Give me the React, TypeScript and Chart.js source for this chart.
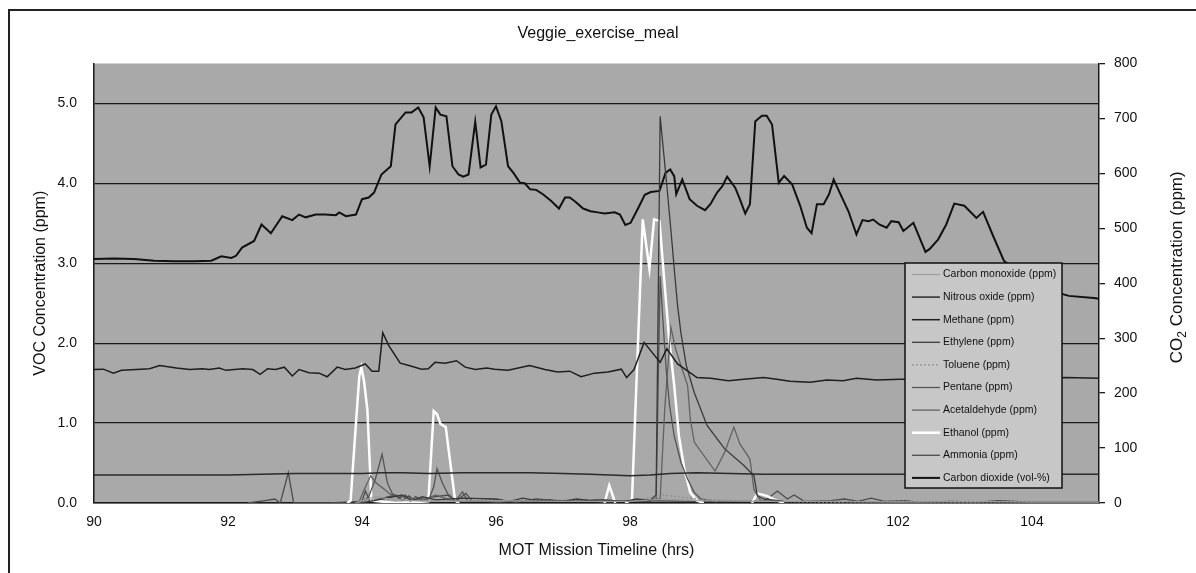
import React, { useEffect, useRef } from 'react';
import { Chart, registerables } from 'chart.js';

Chart.register(...registerables);

const FONT = '"Liberation Sans", Arial, sans-serif';

const chartTitle = 'Veggie_exercise_meal';
const xTitle = 'MOT Mission Timeline (hrs)';
const leftTitle = 'VOC Concentration (ppm)';
const xTickValues = [90, 92, 94, 96, 98, 100, 102, 104];
const vocTickValues = [0, 1, 2, 3, 4, 5];
const co2TickValues = [0, 100, 200, 300, 400, 500, 600, 700, 800];

const seriesNames = [
  'Carbon monoxide (ppm)',
  'Nitrous oxide (ppm)',
  'Methane (ppm)',
  'Ethylene (ppm)',
  'Toluene (ppm)',
  'Pentane (ppm)',
  'Acetaldehyde (ppm)',
  'Ethanol (ppm)',
  'Ammonia (ppm)',
  'Carbon dioxide (vol-%)',
];

const coHours = [93.9, 94.2, 94.5, 95.0, 96.0, 97.0, 98.0, 98.5, 99.0, 100.0, 101.0, 102.0, 103.0, 104.0, 105.0];
const coValues = [0.0, 0.08, 0.04, 0.02, 0.03, 0.02, 0.02, 0.05, 0.03, 0.02, 0.02, 0.01, 0.02, 0.01, 0.01];

const n2oHours = [90, 90.5, 91, 91.5, 92, 92.5, 93, 93.5, 94, 94.3, 94.6, 95, 95.5, 96, 96.5, 97, 97.4, 97.7, 98, 98.3, 98.6, 99, 99.5, 100, 100.5, 101, 102, 103, 104, 105];
const n2oValues = [0.35, 0.35, 0.35, 0.35, 0.35, 0.36, 0.37, 0.37, 0.37, 0.38, 0.38, 0.37, 0.38, 0.38, 0.38, 0.37, 0.36, 0.35, 0.34, 0.35, 0.37, 0.38, 0.37, 0.36, 0.36, 0.36, 0.36, 0.36, 0.36, 0.36];

const methaneHours = [90.0, 90.14, 90.29, 90.41, 90.63, 90.83, 90.98, 91.23, 91.43, 91.62, 91.72, 91.87, 91.97, 92.22, 92.37, 92.48, 92.59, 92.71, 92.84, 92.96, 93.06, 93.21, 93.36, 93.48, 93.63, 93.75, 93.9, 94.05, 94.15, 94.25, 94.31, 94.4, 94.57, 94.7, 94.89, 94.99, 95.09, 95.24, 95.41, 95.54, 95.69, 95.86, 95.98, 96.18, 96.5, 96.73, 96.92, 97.1, 97.27, 97.47, 97.67, 97.87, 97.95, 98.06, 98.21, 98.45, 98.55, 98.71, 99.0, 99.2, 99.47, 99.7, 99.99, 100.19, 100.39, 100.69, 100.94, 101.18, 101.38, 101.68, 102.03, 102.5, 103.0, 103.5, 104.0, 104.5, 105.0];
const methaneValues = [1.67, 1.675, 1.625, 1.66, 1.67, 1.68, 1.72, 1.69, 1.67, 1.68, 1.67, 1.69, 1.66, 1.68, 1.67, 1.61, 1.68, 1.67, 1.7, 1.59, 1.67, 1.63, 1.625, 1.58, 1.7, 1.67, 1.69, 1.74, 1.65, 1.65, 2.13, 1.97, 1.75, 1.72, 1.675, 1.68, 1.76, 1.75, 1.78, 1.7, 1.67, 1.69, 1.675, 1.66, 1.72, 1.67, 1.64, 1.65, 1.58, 1.625, 1.64, 1.675, 1.57, 1.67, 2.01, 1.76, 1.93, 1.74, 1.57, 1.56, 1.53, 1.55, 1.57, 1.55, 1.525, 1.51, 1.54, 1.53, 1.56, 1.54, 1.55, 1.55, 1.54, 1.56, 1.55, 1.57, 1.56];

const ethyleneHours = [94.0, 94.3, 94.6, 94.75, 94.9, 95.1, 95.5, 96.0, 96.2, 96.4, 96.6, 96.8, 97.0, 97.2, 97.4, 97.6, 97.9, 98.1, 98.3, 98.39, 98.45, 98.55, 98.61, 98.67, 98.71, 98.76, 98.84, 98.96, 99.15, 99.41, 99.7, 99.85, 99.9, 100.0, 100.3];
const ethyleneValues = [0.0, 0.05, 0.1, 0.03, 0.08, 0.04, 0.06, 0.05, 0.02, 0.06, 0.03, 0.04, 0.02, 0.05, 0.03, 0.04, 0.02, 0.05, 0.03, 0.1, 4.84, 3.97, 3.42, 2.84, 2.47, 2.13, 1.72, 1.38, 0.97, 0.68, 0.47, 0.34, 0.09, 0.05, 0.02];

const tolueneHours = [93.9, 94.2, 95.0, 96.0, 97.0, 98.0, 98.5, 99.0, 100.0, 101.0, 102.0, 103.0, 104.0];
const tolueneValues = [0.0, 0.05, 0.03, 0.02, 0.04, 0.02, 0.1, 0.05, 0.02, 0.01, 0.02, 0.01, 0.02];

const pentaneHours = [94.0, 94.1, 94.2, 94.3, 94.38, 94.45, 94.55, 94.65, 94.72, 94.8, 94.9, 95.0, 95.07, 95.12, 95.2, 95.3, 95.4, 95.5, 95.58, 95.8, 96.0, 96.5, 97.0, 97.5, 98.0, 98.3, 98.39, 98.45, 98.49, 98.54, 98.59, 98.66, 98.76, 98.86, 98.96, 99.06, 99.3];
const pentaneValues = [0.0, 0.08, 0.3, 0.61, 0.25, 0.12, 0.06, 0.1, 0.02, 0.08, 0.03, 0.05, 0.2, 0.43, 0.25, 0.08, 0.03, 0.14, 0.02, 0.03, 0.01, 0.03, 0.02, 0.04, 0.02, 0.02, 0.05, 2.84, 2.3, 1.67, 1.22, 0.84, 0.51, 0.3, 0.13, 0.05, 0.01];

const acetaldehydeHours = [93.95, 94.05, 94.13, 94.2, 94.32, 94.42, 94.65, 94.9, 95.1, 95.3, 95.5, 96.0, 97.0, 98.0, 98.45, 98.52, 98.61, 98.68, 98.76, 98.86, 98.9, 98.96, 99.27, 99.41, 99.55, 99.64, 99.79, 99.85, 99.95, 100.2];
const acetaldehydeValues = [0.0, 0.2, 0.34, 0.26, 0.18, 0.11, 0.07, 0.03, 0.1, 0.04, 0.02, 0.02, 0.03, 0.02, 0.05, 1.2, 2.2, 1.93, 1.72, 1.47, 1.05, 0.76, 0.4, 0.63, 0.95, 0.74, 0.55, 0.17, 0.03, 0.02];

// null marks a break in the ethanol trace
const ethanolHours = [93.78, 93.83, 93.9, 93.96, 93.99, 94.03, 94.08, 94.14, 94.5, 94.99, 95.07, 95.12, 95.17, 95.25, 95.39, 95.45, 96.5, 97.62, 97.69, 97.78, 97.85, 97.93, 98.03, 98.19, 98.29, 98.36, 98.44, 98.51, 98.58, 98.66, 98.73, 98.81, 98.9, 99.0, 99.1, 99.5, 99.82, 99.9, 100.04, 100.19, 100.3];
const ethanolValues = [0.0, 0.03, 0.88, 1.59, 1.7, 1.53, 1.17, 0.03, 0.0, 0.02, 1.15, 1.11, 0.99, 0.95, 0.03, 0.0, null, 0.0, 0.22, 0.0, null, 0.0, 0.05, 3.55, 2.93, 3.55, 3.53, 2.8, 2.09, 1.47, 0.84, 0.43, 0.13, 0.03, 0.0, null, 0.0, 0.12, 0.09, 0.03, 0.0];

const ammoniaHours = [92.3, 92.55, 92.7, 92.78, 92.9, 92.98, 93.5, 94.0, 94.05, 94.12, 94.5, 94.6, 94.7, 94.8, 94.9, 95.3, 95.4, 95.55, 95.65, 96.0, 96.3, 96.6, 97.0, 97.3, 97.6, 98.0, 99.0, 100.0, 100.2, 100.35, 100.45, 100.6, 101.0, 101.2, 101.4, 101.6, 101.8, 102.1, 102.3, 102.8, 103.2, 103.5, 104.0, 105.0];
const ammoniaValues = [0.0, 0.03, 0.05, 0.0, 0.38, 0.0, 0.0, 0.02, 0.15, 0.02, 0.1, 0.03, 0.09, 0.02, 0.06, 0.1, 0.02, 0.12, 0.02, 0.04, 0.01, 0.05, 0.02, 0.04, 0.01, 0.03, 0.02, 0.02, 0.15, 0.05, 0.1, 0.02, 0.03, 0.05, 0.02, 0.06, 0.02, 0.03, 0.01, 0.02, 0.01, 0.03, 0.01, 0.01];

const co2Hours = [90.0, 90.3, 90.6, 90.9, 91.2, 91.5, 91.75, 91.9, 92.05, 92.12, 92.21, 92.39, 92.5, 92.64, 92.81, 92.96, 93.06, 93.16, 93.31, 93.45, 93.61, 93.66, 93.76, 93.91, 94.0, 94.1, 94.18, 94.29, 94.43, 94.5, 94.65, 94.74, 94.84, 94.92, 95.01, 95.1, 95.17, 95.26, 95.35, 95.44, 95.51, 95.59, 95.69, 95.77, 95.85, 95.93, 96.0, 96.08, 96.18, 96.26, 96.36, 96.43, 96.51, 96.6, 96.7, 96.82, 96.94, 97.03, 97.1, 97.19, 97.3, 97.41, 97.52, 97.62, 97.77, 97.85, 97.93, 98.01, 98.14, 98.22, 98.31, 98.44, 98.53, 98.6, 98.66, 98.69, 98.78, 98.89, 99.0, 99.12, 99.2, 99.3, 99.38, 99.45, 99.57, 99.64, 99.72, 99.79, 99.87, 99.97, 100.04, 100.12, 100.22, 100.3, 100.42, 100.54, 100.64, 100.71, 100.79, 100.89, 100.97, 101.04, 101.13, 101.26, 101.38, 101.47, 101.56, 101.63, 101.72, 101.83, 101.9, 102.01, 102.08, 102.23, 102.41, 102.47, 102.6, 102.72, 102.84, 102.99, 103.17, 103.27, 103.42, 103.58, 103.9, 104.2, 104.38, 104.55, 104.92, 105.0];
const co2Values = [444, 445, 444, 441, 440, 440, 441, 449, 446, 450, 465, 477, 507, 491, 522, 515, 525, 520, 525, 525, 524, 529, 522, 525, 553, 556, 565, 598, 613, 689, 711, 711, 720, 702, 613, 720, 707, 704, 613, 598, 594, 598, 694, 611, 616, 707, 722, 695, 613, 601, 583, 582, 571, 570, 562, 550, 536, 556, 556, 548, 536, 531, 529, 527, 529, 525, 506, 510, 541, 561, 566, 568, 601, 607, 595, 562, 589, 553, 541, 533, 544, 565, 577, 594, 574, 553, 527, 544, 695, 705, 705, 689, 583, 595, 580, 541, 501, 491, 544, 544, 562, 589, 565, 531, 489, 515, 513, 516, 507, 501, 513, 511, 495, 510, 457, 462, 480, 507, 545, 541, 519, 530, 486, 441, 410, 392, 383, 377, 373, 372];

const toPoints = (hours: number[], values: (number | null)[]) =>
  hours.map((h, i) => ({ x: h, y: values[i] }));

const backgroundPlugin = {
  id: 'plotBackground',
  beforeDraw(chart: any) {
    const { ctx, chartArea, width, height } = chart;
    ctx.save();
    ctx.fillStyle = '#ffffff';
    ctx.fillRect(0, 0, width, height);
    ctx.fillStyle = '#a9a9a9';
    ctx.fillRect(chartArea.left, chartArea.top, chartArea.right - chartArea.left, chartArea.bottom - chartArea.top);
    // outer frame
    ctx.strokeStyle = '#222';
    ctx.lineWidth = 2;
    ctx.beginPath();
    ctx.moveTo(9, height);
    ctx.lineTo(9, 10);
    ctx.lineTo(width, 10);
    ctx.stroke();
    ctx.restore();
  },
};

const overlayPlugin = {
  id: 'overlayLegend',
  afterDraw(chart: any) {
    const { ctx, chartArea } = chart;
    ctx.save();
    // legend box
    const bx = 905, by = 263, bw = 157, bh = 225;
    ctx.fillStyle = '#c7c7c7';
    ctx.fillRect(bx, by, bw, bh);
    ctx.strokeStyle = '#111';
    ctx.lineWidth = 1.5;
    ctx.strokeRect(bx, by, bw, bh);
    ctx.font = '10.5px ' + FONT;
    ctx.textBaseline = 'middle';
    ctx.textAlign = 'left';
    chart.data.datasets.forEach((ds: any, i: number) => {
      const y = by + 11.5 + i * 22.6;
      ctx.strokeStyle = ds.borderColor;
      ctx.lineWidth = ds.borderWidth;
      ctx.setLineDash(ds.borderDash || []);
      ctx.beginPath();
      ctx.moveTo(bx + 7, y);
      ctx.lineTo(bx + 35, y);
      ctx.stroke();
      ctx.setLineDash([]);
      ctx.fillStyle = '#111';
      ctx.fillText(ds.label, bx + 38, y);
    });
    // right axis title with subscript
    const cx = 1176;
    const cy = (chartArea.top + chartArea.bottom) / 2 - 16;
    ctx.translate(cx, cy);
    ctx.rotate(-Math.PI / 2);
    const big = '17px ' + FONT;
    const small = '12px ' + FONT;
    ctx.font = big;
    const w1 = ctx.measureText('CO').width;
    const w3 = ctx.measureText(' Concentration (ppm)').width;
    ctx.font = small;
    const w2 = ctx.measureText('2').width;
    const total = w1 + w2 + w3;
    let x = -total / 2;
    ctx.fillStyle = '#111';
    ctx.textBaseline = 'alphabetic';
    ctx.font = big;
    ctx.fillText('CO', x, 6);
    x += w1;
    ctx.font = small;
    ctx.fillText('2', x, 10);
    x += w2;
    ctx.font = big;
    ctx.fillText(' Concentration (ppm)', x, 6);
    ctx.restore();
  },
};

export default function App() {
  const canvasRef = useRef<HTMLCanvasElement | null>(null);

  useEffect(() => {
    if (!canvasRef.current) return;
    Chart.defaults.font.family = FONT;
    const mk = (i: number, hours: number[], values: (number | null)[], color: string, width: number, extra: any = {}) => ({
      label: seriesNames[i],
      data: toPoints(hours, values),
      borderColor: color,
      backgroundColor: color,
      borderWidth: width,
      pointRadius: 0,
      tension: 0,
      spanGaps: false,
      yAxisID: 'y',
      ...extra,
    });
    const chart = new Chart(canvasRef.current, {
      type: 'line',
      data: {
        datasets: [
          mk(0, coHours, coValues, '#9c9c9c', 1.2),
          mk(1, n2oHours, n2oValues, '#2a2a2a', 1.5),
          mk(2, methaneHours, methaneValues, '#1e1e1e', 1.5),
          mk(3, ethyleneHours, ethyleneValues, '#3a3a3a', 1.3),
          mk(4, tolueneHours, tolueneValues, '#8e8e8e', 1.2, { borderDash: [2, 2] }),
          mk(5, pentaneHours, pentaneValues, '#555555', 1.3),
          mk(6, acetaldehydeHours, acetaldehydeValues, '#626262', 1.3),
          mk(7, ethanolHours, ethanolValues, '#ffffff', 2.5),
          mk(8, ammoniaHours, ammoniaValues, '#4c4c4c', 1.3),
          mk(9, co2Hours, co2Values, '#111111', 2, { yAxisID: 'y1' }),
        ],
      },
      options: {
        animation: false,
        responsive: false,
        devicePixelRatio: 1,
        layout: { padding: 0 },
        plugins: {
          legend: { display: false },
          tooltip: { enabled: false },
          title: {
            display: true,
            text: chartTitle,
            color: '#111',
            font: { size: 16, weight: 'normal', family: FONT, lineHeight: 1.2 },
            padding: { top: 24, bottom: 20.3 },
          },
        },
        scales: {
          x: {
            type: 'linear',
            min: 90,
            max: 105,
            afterBuildTicks: (s: any) => {
              s.ticks = xTickValues.map((v) => ({ value: v }));
            },
            afterFit: (s: any) => {
              s.height = 70;
            },
            grid: { display: false, drawTicks: false },
            border: { display: true, color: '#1a1a1a', width: 1.5 },
            ticks: { padding: 11, color: '#111', font: { size: 14 }, maxRotation: 0, autoSkip: false },
            title: {
              display: true,
              text: xTitle,
              color: '#111',
              font: { size: 16 },
              padding: { top: 0, bottom: 13 },
            },
          },
          y: {
            type: 'linear',
            position: 'left',
            min: 0,
            max: 5.5,
            afterBuildTicks: (s: any) => {
              s.ticks = vocTickValues.map((v) => ({ value: v }));
            },
            afterFit: (s: any) => {
              s.width = 94;
            },
            grid: { color: '#1a1a1a', lineWidth: 1.3, drawTicks: false },
            border: { display: true, color: '#1a1a1a', width: 1.5 },
            ticks: {
              padding: 17,
              color: '#111',
              font: { size: 14 },
              callback: (v: any) => Number(v).toFixed(1),
            },
            title: {
              display: true,
              text: leftTitle,
              color: '#111',
              font: { size: 16 },
              padding: { top: 31, bottom: 0 },
            },
          },
          y1: {
            type: 'linear',
            position: 'right',
            min: 0,
            max: 800,
            afterBuildTicks: (s: any) => {
              s.ticks = co2TickValues.map((v) => ({ value: v }));
            },
            afterFit: (s: any) => {
              s.width = 97;
            },
            grid: { display: true, drawOnChartArea: false, drawTicks: true, tickLength: 6, color: '#1a1a1a', lineWidth: 1.3 },
            border: { display: true, color: '#1a1a1a', width: 1.5 },
            ticks: { padding: 9, color: '#111', font: { size: 14 } },
          },
        },
      },
      plugins: [backgroundPlugin, overlayPlugin],
    } as any);
    return () => chart.destroy();
  }, []);

  return (
    <div style={{ position: 'absolute', left: 0, top: 0, width: 1196, height: 573, background: '#fff' }}>
      <canvas ref={canvasRef} width={1196} height={573} style={{ display: 'block', width: 1196, height: 573 }} />
    </div>
  );
}
